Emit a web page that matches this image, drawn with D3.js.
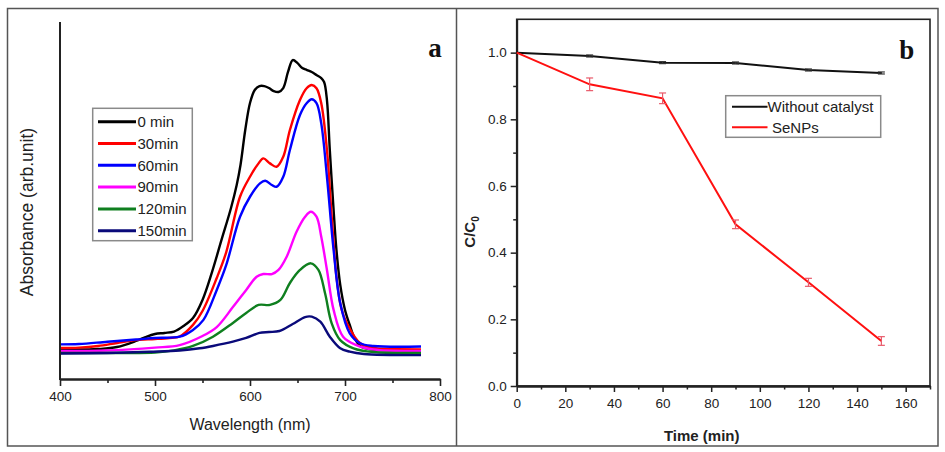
<!DOCTYPE html>
<html><head><meta charset="utf-8">
<script src="https://cdn.jsdelivr.net/npm/d3@7/dist/d3.min.js"></script>
<style>
html,body{margin:0;padding:0;background:#fff;}
svg{display:block;font-family:"Liberation Sans",Arial,sans-serif;}
</style></head>
<body><svg id="c" width="945" height="452"></svg>
<script>
// ---------- Panel a data: UV-Vis spectra ----------
const seriesNames = ["0 min","30min","60min","90min","120min","150min"];
const seriesColors = ["#000000","#ff0000","#0000ff","#ff00ff","#0f7f1f","#0a0a7a"];
const spec0 = [[400,0.168],[420,0.165],[440,0.168],[460,0.179],[480,0.213],[490,0.235],[500,0.252],[510,0.258],[520,0.266],[530,0.297],[540,0.342],[550,0.443],[560,0.599],[570,0.779],[580,0.958],[586,1.087],[590,1.199],[595,1.395],[600,1.546],[605,1.619],[610,1.641],[615,1.641],[620,1.630],[625,1.613],[630,1.608],[635,1.630],[640,1.720],[645,1.787],[650,1.770],[655,1.742],[660,1.731],[665,1.720],[670,1.703],[675,1.686],[678,1.664],[681,1.563],[684,1.283],[688,0.947],[691,0.723],[695,0.527],[700,0.387],[705,0.303],[710,0.230],[716,0.185],[725,0.168],[740,0.162],[760,0.160],[780,0.160]];
const spec30 = [[400,0.174],[420,0.176],[440,0.185],[460,0.202],[480,0.218],[500,0.224],[515,0.230],[526,0.238],[540,0.303],[550,0.381],[565,0.566],[575,0.711],[589.5,1.021],[600,1.133],[609,1.208],[614,1.236],[621,1.208],[628,1.189],[635,1.245],[642,1.395],[652.6,1.563],[659.6,1.629],[665,1.647],[670,1.629],[675,1.545],[681,1.283],[686,0.909],[691,0.573],[696,0.398],[702,0.312],[716,0.200],[730,0.174],[750,0.168],[780,0.166]];
const spec60 = [[400,0.194],[420,0.196],[450,0.209],[480,0.221],[500,0.230],[526,0.237],[540,0.275],[551,0.331],[565,0.499],[575,0.639],[589.5,0.909],[600,1.021],[610.5,1.096],[616,1.111],[623,1.087],[628,1.077],[635,1.133],[642,1.283],[652.6,1.479],[659.6,1.545],[665,1.567],[670,1.545],[675,1.432],[681,1.133],[688,0.723],[695,0.424],[705,0.256],[716,0.200],[730,0.185],[780,0.182]];
const spec90 = [[400,0.157],[450,0.160],[500,0.176],[526,0.190],[550,0.241],[565,0.291],[582,0.403],[596,0.499],[607,0.573],[614,0.588],[623,0.588],[630,0.611],[638.6,0.685],[649,0.825],[658,0.909],[664,0.937],[670,0.909],[675,0.797],[681,0.611],[688,0.387],[698,0.237],[712,0.190],[730,0.165],[780,0.157]];
const spec120 = [[400,0.146],[450,0.146],[500,0.148],[520,0.160],[540,0.185],[561,0.237],[582,0.314],[596,0.370],[609,0.415],[621,0.415],[632,0.443],[642,0.538],[652.6,0.611],[664,0.648],[672,0.611],[679,0.480],[686,0.312],[695,0.218],[709,0.172],[730,0.151],[780,0.146]];
const spec150 = [[400,0.143],[450,0.146],[495,0.153],[526,0.160],[547,0.172],[561,0.185],[582,0.209],[596,0.230],[610,0.258],[620,0.263],[631,0.269],[645,0.308],[658,0.347],[665,0.349],[674,0.321],[684,0.237],[695,0.172],[705,0.153],[720,0.140],[780,0.134]];
const spectra = [spec0,spec30,spec60,spec90,spec120,spec150];
const xTicksA = [400,500,600,700,800];
const xMinorA = [450,550,650,750];

// ---------- Panel b data: C/C0 vs time ----------
const times = [0,30,60,90,120,150];
const noCat = [1.0,0.990,0.970,0.969,0.948,0.939];
const noCatErr = [0,0.003,0.003,0.003,0.003,0.003];
const seNPs = [1.0,0.905,0.863,0.485,0.311,0.135];
const seNPsErr = [0,0.019,0.016,0.013,0.012,0.013];
const xTicksB = [0,20,40,60,80,100,120,140,160];
const xMinorB = [10,30,50,70,90,110,130,150,170];
const yTicksB = [0,0.2,0.4,0.6,0.8,1.0];
const yMinorB = [0.1,0.3,0.5,0.7,0.9];

const svg = d3.select("#c");
const axisCol = "#222";

// outer border & divider
svg.append("rect").attr("x",7.5).attr("y",8.5).attr("width",930.5).attr("height",437.5)
  .attr("fill","none").attr("stroke","#555").attr("stroke-width",1.5);
svg.append("line").attr("x1",456.5).attr("x2",456.5).attr("y1",8.5).attr("y2",446)
  .attr("stroke","#555").attr("stroke-width",1.5);

// ================= Panel a =================
const xa = d3.scaleLinear().domain([400,800]).range([60,440]);
const ya = d3.scaleLinear().domain([0,2]).range([379,22]);
const ga = svg.append("g");

const line = d3.line().x(d=>xa(d[0])).y(d=>ya(d[1])).curve(d3.curveCatmullRom.alpha(0.5));
spectra.forEach((s,i)=>{
  ga.append("path").attr("d",line(s)).attr("fill","none")
    .attr("stroke",seriesColors[i]).attr("stroke-width",2.4).attr("stroke-linejoin","round");
});

// axes a
const axA = ga.append("g").attr("transform","translate(0,379)")
  .call(d3.axisBottom(xa).tickValues(xTicksA).tickSize(7).tickPadding(5).tickSizeOuter(0));
const axAm = ga.append("g").attr("transform","translate(0,379)")
  .call(d3.axisBottom(xa).tickValues(xMinorA).tickSize(4).tickFormat("").tickSizeOuter(0));
[axA,axAm].forEach(g=>{
  g.select(".domain").attr("stroke",axisCol).attr("stroke-width",2);
  g.selectAll(".tick line").attr("stroke",axisCol).attr("stroke-width",1.6);
});
axA.selectAll(".tick text").attr("font-size",13.5).attr("fill","#222")
  .attr("font-family","Liberation Sans, Arial, sans-serif");
ga.append("line").attr("x1",60).attr("x2",60).attr("y1",ya(2)).attr("y2",380)
  .attr("stroke",axisCol).attr("stroke-width",2);

ga.append("text").attr("x",250).attr("y",430).attr("text-anchor","middle")
  .attr("font-size",16).attr("fill","#222").text("Wavelength (nm)");
ga.append("text").attr("transform","translate(33,212) rotate(-90)").attr("text-anchor","middle")
  .attr("font-size",17.5).attr("fill","#222").text("Absorbance (arb.unit)");
ga.append("text").attr("x",435).attr("y",57).attr("text-anchor","middle")
  .attr("font-family","Liberation Serif, Times New Roman, serif").attr("font-weight","bold")
  .attr("font-size",27).attr("fill","#111").text("a");

// legend a
const lgA = ga.append("g");
lgA.append("rect").attr("x",92.7).attr("y",108.3).attr("width",99.6).attr("height",132.4)
  .attr("fill","#fff").attr("stroke","#8a8a8a").attr("stroke-width",1.5);
seriesNames.forEach((n,i)=>{
  const yy = 121.7 + i*21.8;
  lgA.append("line").attr("x1",98).attr("x2",136).attr("y1",yy).attr("y2",yy)
    .attr("stroke",seriesColors[i]).attr("stroke-width",3);
  lgA.append("text").attr("x",137.5).attr("y",yy+5.3).attr("font-size",15).attr("fill","#222").text(n);
});

// ================= Panel b =================
const xb = d3.scaleLinear().domain([0,170]).range([516.7,930]);
const yb = d3.scaleLinear().domain([0,1.1]).range([386,19.3]);
const gb = svg.append("g");

gb.append("rect").attr("x",xb(0)).attr("y",yb(1.1)).attr("width",xb(170)-xb(0)).attr("height",yb(0)-yb(1.1))
  .attr("fill","none").attr("stroke",axisCol).attr("stroke-width",1.6);

const axBx = gb.append("g").attr("transform","translate(0,386)")
  .call(d3.axisBottom(xb).tickValues(xTicksB).tickSize(6).tickPadding(6).tickSizeOuter(0));
const axBxm = gb.append("g").attr("transform","translate(0,386)")
  .call(d3.axisBottom(xb).tickValues(xMinorB).tickSize(3.5).tickFormat("").tickSizeOuter(0));
const axBy = gb.append("g").attr("transform","translate(516.7,0)")
  .call(d3.axisLeft(yb).tickValues(yTicksB).tickSize(6).tickPadding(4).tickFormat(d3.format(".1f")).tickSizeOuter(0));
const axBym = gb.append("g").attr("transform","translate(516.7,0)")
  .call(d3.axisLeft(yb).tickValues(yMinorB).tickSize(3.5).tickFormat("").tickSizeOuter(0));
[axBx,axBxm,axBy,axBym].forEach(g=>{
  g.select(".domain").attr("stroke",axisCol).attr("stroke-width",1.8);
  g.selectAll(".tick line").attr("stroke",axisCol).attr("stroke-width",1.5);
  g.selectAll(".tick text").attr("font-size",13.5).attr("fill","#222")
    .attr("font-family","Liberation Sans, Arial, sans-serif");
});

const lineB = d3.line().x((d,i)=>xb(times[i])).y(d=>yb(d));
gb.append("path").attr("d",lineB(noCat)).attr("fill","none").attr("stroke","#111").attr("stroke-width",2);
gb.append("path").attr("d",lineB(seNPs)).attr("fill","none").attr("stroke","#ff1010").attr("stroke-width",2);

function errBars(vals, errs, col, cap){
  vals.forEach((v,i)=>{
    if(!errs[i]) return;
    const x = xb(times[i]);
    const y1 = yb(v+errs[i]), y2 = yb(v-errs[i]);
    gb.append("line").attr("x1",x).attr("x2",x).attr("y1",y1).attr("y2",y2).attr("stroke",col).attr("stroke-width",1.2);
    [y1,y2].forEach(yy=>gb.append("line").attr("x1",x-cap).attr("x2",x+cap).attr("y1",yy).attr("y2",yy)
      .attr("stroke",col).attr("stroke-width",1.2));
  });
}
errBars(noCat, noCatErr, "#333", 3.5);
errBars(seNPs, seNPsErr, "#e85a6a", 3.5);

gb.append("text").attr("x",701.7).attr("y",441).attr("text-anchor","middle")
  .attr("font-size",15).attr("font-weight","bold").attr("fill","#222").text("Time (min)");
const yt = gb.append("text").attr("transform","translate(475,232) rotate(-90)").attr("text-anchor","middle")
  .attr("font-size",15).attr("font-weight","bold").attr("fill","#222");
yt.append("tspan").text("C/C");
yt.append("tspan").attr("font-size",10).attr("dy",4).text("0");
gb.append("text").attr("x",906.7).attr("y",59).attr("text-anchor","middle")
  .attr("font-family","Liberation Serif, Times New Roman, serif").attr("font-weight","bold")
  .attr("font-size",27).attr("fill","#111").text("b");

// legend b
const lgB = gb.append("g");
lgB.append("rect").attr("x",725.7).attr("y",95.7).attr("width",155).attr("height",41.6)
  .attr("fill","#fff").attr("stroke","#8a8a8a").attr("stroke-width",1.5);
const legB = [["Without catalyst","#111",106.7,767.5],["SeNPs","#ff1010",127.3,772]];
legB.forEach(d=>{
  lgB.append("line").attr("x1",732).attr("x2",767.5).attr("y1",d[2]).attr("y2",d[2])
    .attr("stroke",d[1]).attr("stroke-width",2);
  lgB.append("text").attr("x",d[3]).attr("y",d[2]+5.3).attr("font-size",15).attr("fill","#222").text(d[0]);
});
</script></body></html>
